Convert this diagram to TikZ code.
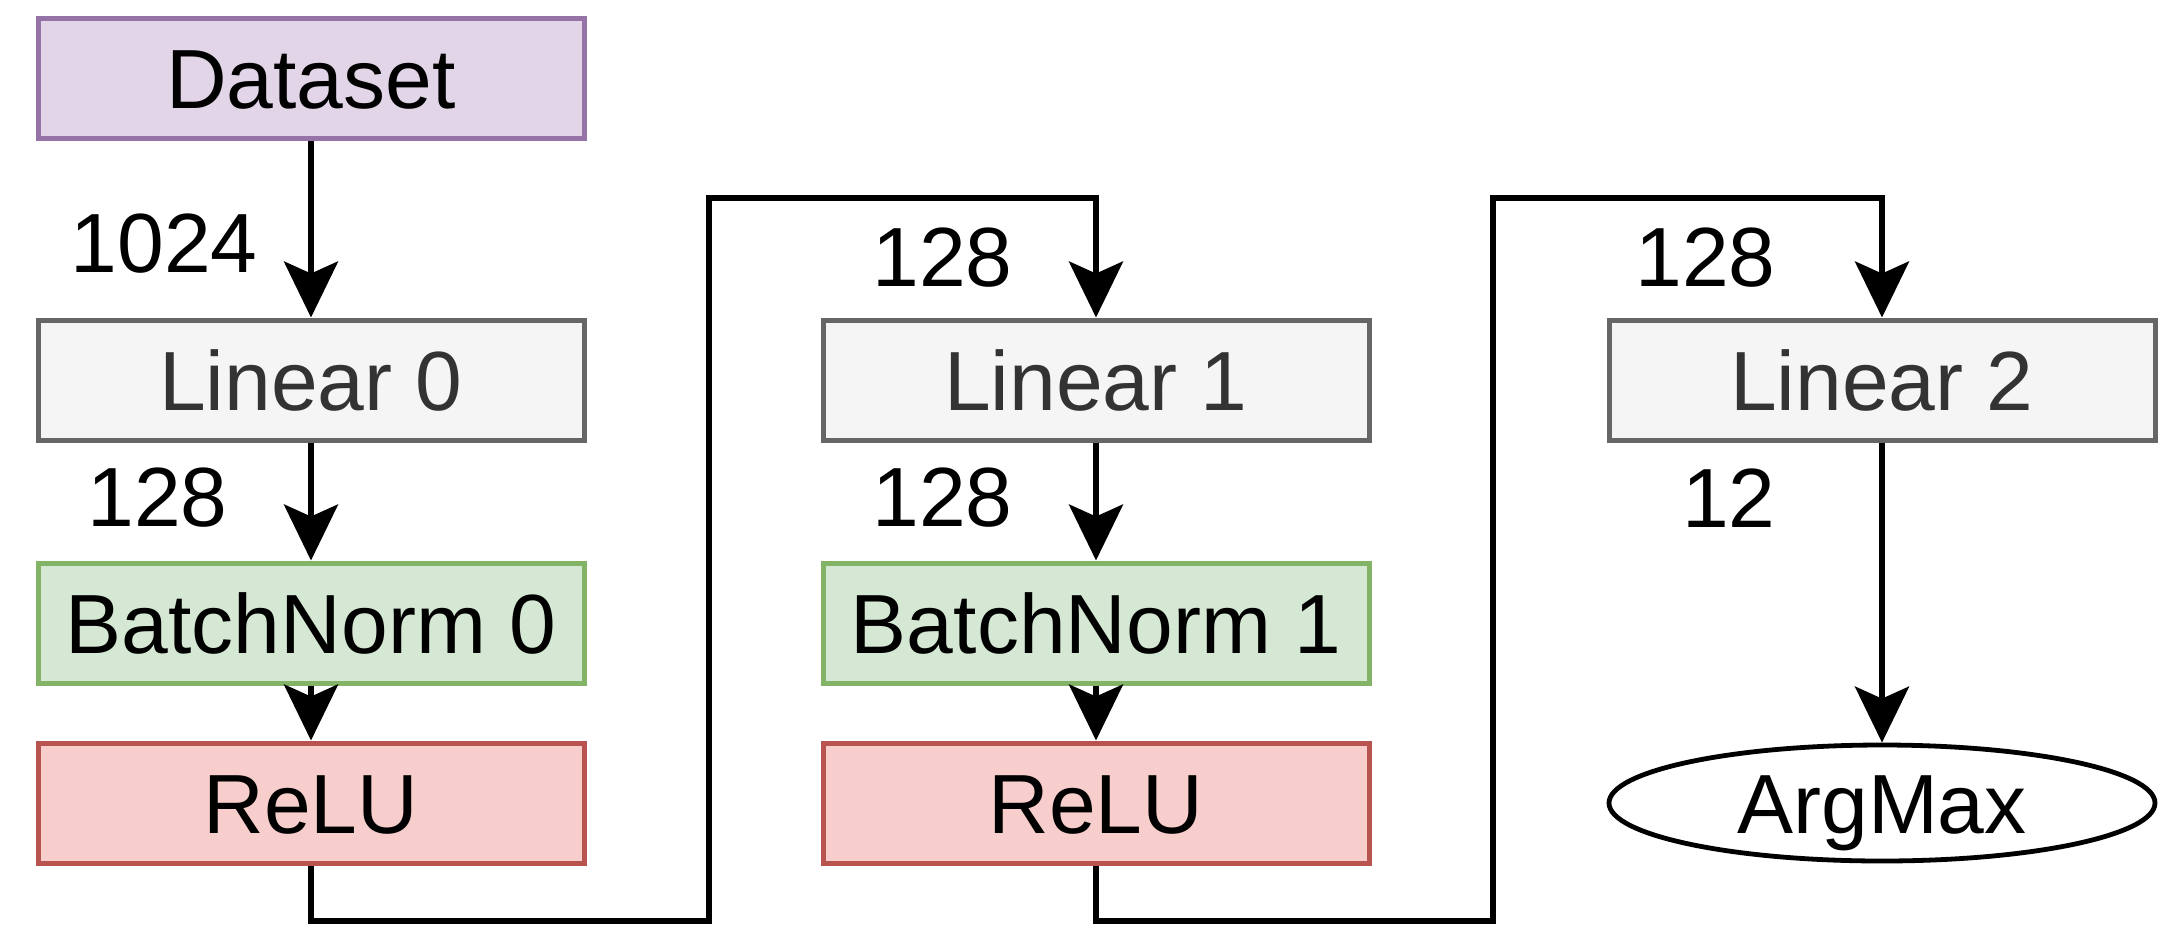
\documentclass[tikz,border=0pt]{standalone}
\usepackage{fontspec}
\setmainfont{Liberation Sans}
\usetikzlibrary{shapes.geometric,arrows.meta}
\definecolor{datafill}{HTML}{E1D5E7}
\definecolor{datadraw}{HTML}{9673A6}
\definecolor{linfill}{HTML}{F5F5F5}
\definecolor{lindraw}{HTML}{666666}
\definecolor{lintext}{HTML}{333333}
\definecolor{bnfill}{HTML}{D5E8D4}
\definecolor{bndraw}{HTML}{82B366}
\definecolor{relufill}{HTML}{F8CECC}
\definecolor{reludraw}{HTML}{B85450}
\tikzset{
  box/.style={draw, line width=2.5pt, minimum width=273pt, minimum height=60pt,
    inner sep=0pt, font=\fontsize{42}{48}\selectfont, text height=30pt, text depth=0pt},
  databox/.style={box, fill=datafill, draw=datadraw},
  linbox/.style={box, fill=linfill, draw=lindraw, text=lintext},
  bnbox/.style={box, fill=bnfill, draw=bndraw},
  relubox/.style={box, fill=relufill, draw=reludraw},
  outbox/.style={ellipse, draw, line width=2.4pt, fill=white, minimum width=273pt, minimum height=58pt,
    inner sep=0pt, font=\fontsize{42}{48}\selectfont, text height=30pt, text depth=0pt},
  lbl/.style={anchor=east, inner sep=0pt, font=\fontsize{42}{48}\selectfont},
  conn/.style={line width=2.8pt, -{Stealth[length=28pt, width=27pt, inset=6pt]}}
}
\begin{document}
\begin{tikzpicture}[x=0.5pt, y=-0.5pt]
\useasboundingbox (0,0) rectangle (2181,928);
% column 1
\node[databox] (data) at (311,78) {Dataset};
\node[linbox] (lin0) at (311,380) {Linear 0};
\node[bnbox] (bn0) at (311,623) {BatchNorm 0};
\node[relubox] (relu0) at (311,803) {ReLU};
% column 2
\node[linbox] (lin1) at (1096,380) {Linear 1};
\node[bnbox] (bn1) at (1096,623) {BatchNorm 1};
\node[relubox] (relu1) at (1096,803) {ReLU};
% column 3
\node[linbox] (lin2) at (1882,380) {Linear 2};
\node[outbox] (argmax) at (1882,803) {ArgMax};
% labels
\node[lbl] (l1024) at (258,244) {1024};
\node[lbl] (l128a) at (228,498) {128};
\node[lbl] (l128b) at (1013,258) {128};
\node[lbl] (l128c) at (1013,498) {128};
\node[lbl] (l128d) at (1776,258) {128};
\node[lbl] (l12) at (1776,498) {12};
% routing points
\coordinate (b0) at (709,921);
\coordinate (t0) at (709,198);
\coordinate (b1) at (1493,921);
\coordinate (t1) at (1493,198);
% connectors
\draw[conn] (data) -- (lin0);
\draw[conn] (lin0) -- (bn0);
\draw[conn] (bn0) -- (relu0);
\draw[conn] (relu0.south) |- (b0) -- (t0) -| (lin1.north);
\draw[conn] (lin1) -- (bn1);
\draw[conn] (bn1) -- (relu1);
\draw[conn] (relu1.south) |- (b1) -- (t1) -| (lin2.north);
\draw[conn] (lin2) -- (argmax);
\end{tikzpicture}
\end{document}
